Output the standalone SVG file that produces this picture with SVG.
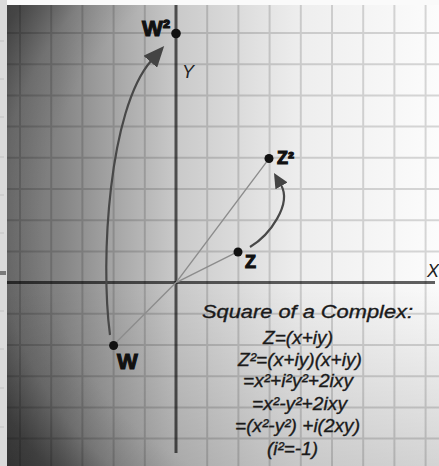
<svg xmlns="http://www.w3.org/2000/svg" width="439" height="466" viewBox="0 0 439 466">
<defs>
  <linearGradient id="bgx" gradientUnits="userSpaceOnUse" x1="7" y1="0" x2="439" y2="0">
    <stop offset="0" stop-color="#707070"/>
    <stop offset="0.12" stop-color="#838383"/>
    <stop offset="0.22" stop-color="#9e9e9e"/>
    <stop offset="0.39" stop-color="#c9c9c9"/>
    <stop offset="0.68" stop-color="#eeeeee"/>
    <stop offset="1" stop-color="#fcfcfc"/>
  </linearGradient>
  <radialGradient id="vig" gradientUnits="userSpaceOnUse" cx="320" cy="220" r="460">
    <stop offset="0.6" stop-color="#000" stop-opacity="0"/>
    <stop offset="0.7" stop-color="#000" stop-opacity="0.1"/>
    <stop offset="0.8" stop-color="#000" stop-opacity="0.4"/>
    <stop offset="1" stop-color="#000" stop-opacity="0.6"/>
  </radialGradient>
  <linearGradient id="bot" gradientUnits="userSpaceOnUse" x1="0" y1="280" x2="0" y2="466">
    <stop offset="0" stop-color="#000" stop-opacity="0"/>
    <stop offset="1" stop-color="#000" stop-opacity="0.16"/>
  </linearGradient>
  <marker id="ahBig" markerUnits="userSpaceOnUse" viewBox="0 0 21 18" refX="1" refY="9" markerWidth="21" markerHeight="18" orient="auto">
    <path d="M0,0 L21,9 L0,18 z" fill="#444"/>
  </marker>
  <marker id="ahSmall" markerUnits="userSpaceOnUse" viewBox="0 0 15 14" refX="1" refY="7" markerWidth="15" markerHeight="14" orient="auto">
    <path d="M0,0 L15,7 L0,14 z" fill="#444"/>
  </marker>
  <style>
    .grid{stroke:#000;stroke-opacity:0.15;stroke-width:2;fill:none}
    .axis{stroke:#000;stroke-opacity:0.62;stroke-width:3;fill:none}
    .ray{stroke:#8c8c8c;stroke-width:1.4;fill:none}
    .arc{fill:none;stroke:#484848;stroke-width:2.2}
    .dot{fill:#111}
    .lbl{font-family:"Liberation Sans",Arial,sans-serif;font-weight:bold;fill:#111;stroke:#111;stroke-width:1.1}
    .ax{font-family:"Liberation Sans",Arial,sans-serif;font-style:italic;fill:#222;font-size:18px}
    .eq{font-family:"Liberation Sans",Arial,sans-serif;font-style:italic;fill:#1a1a1a;stroke:#1a1a1a;stroke-width:0.35;font-size:19px;text-anchor:middle}
    .mark{stroke:#c2c2c2;stroke-width:1}
  </style>
</defs>

<!-- surroundings -->
<rect x="0" y="0" width="439" height="466" fill="#fafafa"/>
<rect x="0" y="0" width="7" height="466" fill="#dadada"/>
<g class="mark">
  <line x1="0" y1="41" x2="4" y2="41"/><line x1="0" y1="79" x2="4" y2="79"/>
  <line x1="0" y1="117" x2="4" y2="117"/><line x1="0" y1="157" x2="4" y2="157"/>
  <line x1="0" y1="195" x2="4" y2="195"/><line x1="0" y1="233" x2="4" y2="233"/>
  <line x1="0" y1="311" x2="4" y2="311"/><line x1="0" y1="349" x2="4" y2="349"/>
  <line x1="0" y1="388" x2="4" y2="388"/><line x1="0" y1="427" x2="4" y2="427"/>
</g>
<rect x="0" y="271" width="6" height="4" fill="#7a7a7a"/>

<!-- panel background -->
<rect x="7" y="5" width="432" height="461" fill="url(#bgx)"/>
<rect x="7" y="5" width="432" height="461" fill="url(#vig)"/>
<rect x="7" y="5" width="432" height="461" fill="url(#bot)"/>

<!-- grid -->
<path class="grid" d="M20,5V466 M51.2,5V466 M82.4,5V466 M113.6,5V466 M144.8,5V466 M207.2,5V466 M238.4,5V466 M269.6,5V466 M300.8,5V466 M332,5V466 M363.2,5V466 M394.4,5V466 M425.6,5V466
 M7,33H439 M7,64.2H439 M7,95.4H439 M7,126.6H439 M7,157.8H439 M7,189H439 M7,220.2H439 M7,251.4H439 M7,313.8H439 M7,345H439 M7,376.2H439 M7,407.4H439 M7,438.6H439"/>

<!-- axes -->
<g id="axes">
  <line class="axis" x1="176" y1="5" x2="176" y2="453"/>
  <line class="axis" x1="7" y1="282.6" x2="435" y2="282.6"/>
  <text class="ax" x="182" y="78">Y</text>
  <text class="ax" x="427" y="277">X</text>
</g>

<!-- connectors -->
<g id="connectors">
  <line class="ray" x1="176" y1="282.6" x2="113.6" y2="345"/>
  <line class="ray" x1="176" y1="282.6" x2="238.4" y2="251.4"/>
  <line class="ray" x1="176" y1="282.6" x2="269.6" y2="157.8"/>
  <path class="arc" d="M110,335 C100,260 109,109 151,61" marker-end="url(#ahBig)"/>
  <path class="arc" d="M250,247 C270,235 292,204 281,185" marker-end="url(#ahSmall)"/>
</g>

<!-- nodes -->
<g id="node-w2">
  <circle class="dot" cx="176" cy="33.5" r="4.8"/>
  <text class="lbl" x="170" y="36" font-size="22" text-anchor="end">W²</text>
</g>
<g id="node-z2">
  <circle class="dot" cx="269" cy="158.5" r="4.5"/>
  <text class="lbl" x="277" y="164" font-size="18">Z²</text>
</g>
<g id="node-z">
  <circle class="dot" cx="238" cy="252" r="4.5"/>
  <text class="lbl" x="245" y="268" font-size="18">Z</text>
</g>
<g id="node-w">
  <circle class="dot" cx="113.6" cy="345.5" r="4.5"/>
  <text class="lbl" x="117" y="369" font-size="22">W</text>
</g>

<!-- formula -->
<g id="formula">
  <text class="eq" x="307.5" y="318" font-size="22" textLength="211" lengthAdjust="spacingAndGlyphs">Square of a Complex:</text>
  <text class="eq" x="298" y="344" textLength="70" lengthAdjust="spacingAndGlyphs">Z=(x+iy)</text>
  <text class="eq" x="300" y="366" textLength="124" lengthAdjust="spacingAndGlyphs">Z²=(x+iy)(x+iy)</text>
  <text class="eq" x="298" y="387" textLength="110" lengthAdjust="spacingAndGlyphs">=x²+i²y²+2ixy</text>
  <text class="eq" x="299.5" y="410" textLength="95" lengthAdjust="spacingAndGlyphs">=x²-y²+2ixy</text>
  <text class="eq" x="297.5" y="432" textLength="125" lengthAdjust="spacingAndGlyphs">=(x²-y²) +i(2xy)</text>
  <text class="eq" x="292.5" y="455" textLength="51" lengthAdjust="spacingAndGlyphs">(i²=-1)</text>
</g>
</svg>
